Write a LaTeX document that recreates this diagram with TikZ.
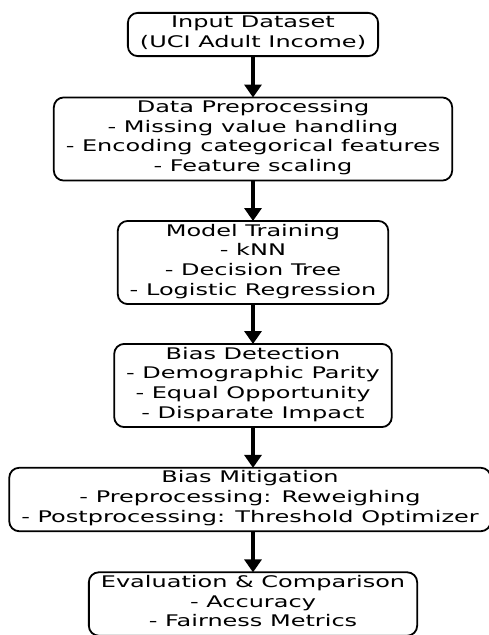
\documentclass[tikz,border=0pt]{standalone}
\usepackage{fontspec}
\setmainfont{DejaVu Sans}[FakeStretch=1.5]
\usepackage{tikz}
\usetikzlibrary{arrows.meta,positioning}

\tikzset{
  stage/.style={draw, line width=1.8pt, rounded corners=10pt, align=center,
    inner xsep=12pt, inner ysep=3pt, font=\fontsize{16}{19.7}\selectfont,
    execute at begin node=\strut, execute at end node=\strut},
  flow/.style={line width=3.5pt, -{Triangle[width=17pt,length=13pt]}, shorten >=-1pt}
}

\begin{document}
\begin{tikzpicture}[x=1pt,y=1pt]
    \useasboundingbox (0,0) rectangle (488,-635);
    % Stages
    \node[stage] (input) at (253,-34.5) {Input Dataset\\(UCI Adult Income)};
    \node[stage] (prep) at (253,-139) {Data Preprocessing\\- Missing value handling\\- Encoding categorical features\\- Feature scaling};
    \node[stage] (train) at (253,-262.5) {Model Training\\- kNN\\- Decision Tree\\- Logistic Regression};
    \node[stage] (detect) at (253,-385.5) {Bias Detection\\- Demographic Parity\\- Equal Opportunity\\- Disparate Impact};
    \node[stage] (mitig) at (250,-499.5) {Bias Mitigation\\- Preprocessing: Reweighing\\- Postprocessing: Threshold Optimizer};
    \node[stage] (eval) at (253,-604) {Evaluation \& Comparison\\- Accuracy\\- Fairness Metrics};
    % Arrows
    \draw[flow] (input) -- (prep);
    \draw[flow] (prep) -- (train);
    \draw[flow] (train) -- (detect);
    \draw[flow] (detect) -- (mitig.north -| detect);
    \draw[flow] (mitig.south -| eval) -- (eval);
\end{tikzpicture}
\end{document}
